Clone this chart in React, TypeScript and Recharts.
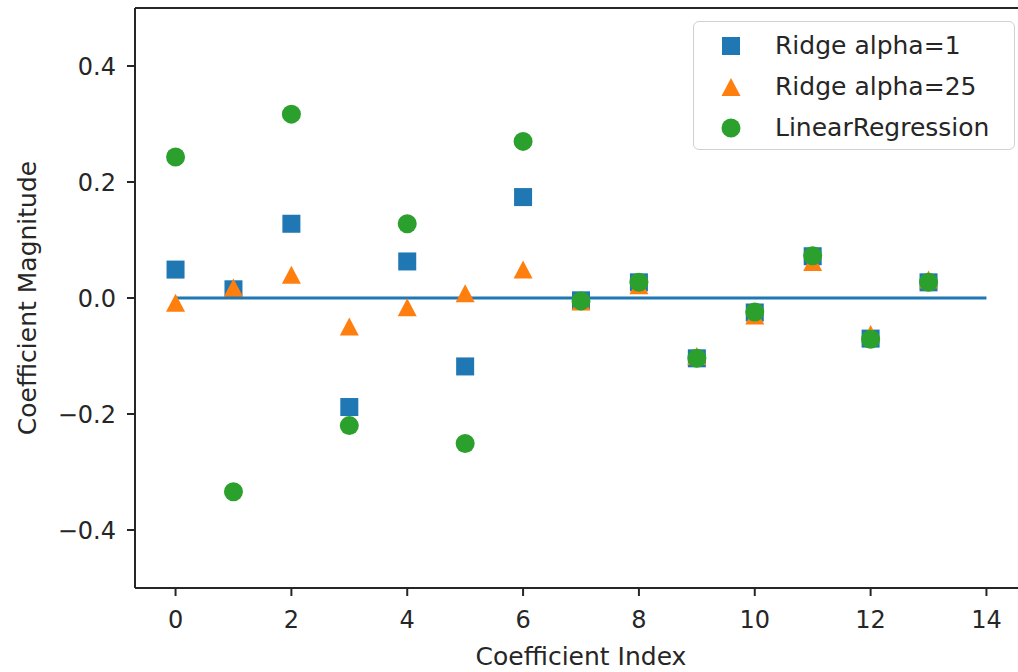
import {
  ReferenceLine,
  Scatter,
  ScatterChart,
  XAxis,
  YAxis,
} from 'recharts';

const coefIndex = [0, 1, 2, 3, 4, 5, 6, 7, 8, 9, 10, 11, 12, 13];
const ridgeAlpha1 = [0.049, 0.015, 0.128, -0.188, 0.063, -0.118, 0.174, -0.004, 0.027, -0.104, -0.025, 0.072, -0.07, 0.027];
const ridgeAlpha25 = [-0.008, 0.018, 0.04, -0.049, -0.016, 0.008, 0.049, -0.006, 0.022, -0.1, -0.03, 0.062, -0.062, 0.032];
const linearReg = [0.243, -0.334, 0.317, -0.22, 0.128, -0.251, 0.27, -0.005, 0.027, -0.104, -0.024, 0.073, -0.071, 0.027];

const xTicks = [0, 2, 4, 6, 8, 10, 12, 14];
const yTicks = [-0.4, -0.2, 0, 0.2, 0.4];

const BLUE = '#1f77b4';
const ORANGE = '#ff7f0e';
const GREEN = '#2ca02c';
const INK = '#262626';
const FONT = '"DejaVu Sans", sans-serif';

const toPoints = (vals: number[]) => vals.map((v, i) => ({ x: coefIndex[i], y: v }));

const square = (p: any) => (
  <rect x={p.cx - 9} y={p.cy - 9} width={18} height={18} fill={BLUE} />
);
const triangle = (p: any) => (
  <polygon
    points={`${p.cx},${p.cy - 9} ${p.cx - 9.5},${p.cy + 9} ${p.cx + 9.5},${p.cy + 9}`}
    fill={ORANGE}
  />
);
const dot = (p: any) => <circle cx={p.cx} cy={p.cy} r={9.5} fill={GREEN} />;

const legendItems = [
  { label: 'Ridge alpha=1', marker: 'square', color: BLUE },
  { label: 'Ridge alpha=25', marker: 'triangle', color: ORANGE },
  { label: 'LinearRegression', marker: 'circle', color: GREEN },
];

function LegendMarker({ kind, color }: { kind: string; color: string }) {
  return (
    <svg width={22} height={22} style={{ display: 'block' }}>
      {kind === 'square' && <rect x={2} y={2} width={18} height={18} fill={color} />}
      {kind === 'triangle' && <polygon points="11,2 1.5,20 20.5,20" fill={color} />}
      {kind === 'circle' && <circle cx={11} cy={11} r={9.5} fill={color} />}
    </svg>
  );
}

function LegendBox() {
  return (
    <div
      style={{
        position: 'absolute',
        left: 693,
        top: 21,
        boxSizing: 'border-box',
        width: 322,
        height: 129,
        border: '1.5px solid #d0d0d0',
        borderRadius: 6,
        background: '#fff',
        padding: '3px 0 0 26px',
        fontFamily: FONT,
        fontSize: 25,
        color: INK,
      }}
    >
      {legendItems.map((it) => (
        <div key={it.label} style={{ display: 'flex', alignItems: 'center', height: 41 }}>
          <LegendMarker kind={it.marker} color={it.color} />
          <span style={{ marginLeft: 33 }}>{it.label}</span>
        </div>
      ))}
    </div>
  );
}

const fmt = (v: number) => (v < 0 ? `\u2212${Math.abs(v).toFixed(1)}` : v.toFixed(1));

export default function App() {
  const tickStyle = { fontSize: 24, fill: INK, fontFamily: FONT };
  return (
    <div style={{ position: 'relative', width: 1018, height: 672, overflow: 'hidden', background: '#fff' }}>
      <style>{'body{margin:0}'}</style>
      <ScatterChart width={1030} height={672} margin={{ top: 8, right: 3, bottom: 0, left: 0 }}>
        <XAxis
          type="number"
          dataKey="x"
          domain={[-0.7, 14.7]}
          ticks={xTicks}
          allowDataOverflow
          height={84}
          tickSize={8}
          tickMargin={15}
          tick={tickStyle}
          stroke={INK}
          strokeWidth={2}
          label={{ value: 'Coefficient Index', position: 'insideBottom', offset: 7, style: { ...tickStyle, fontSize: 25 } }}
        />
        <YAxis
          type="number"
          dataKey="y"
          domain={[-0.5, 0.5]}
          ticks={yTicks}
          allowDataOverflow
          width={135}
          tickSize={8}
          tickMargin={11}
          tickFormatter={fmt}
          tick={tickStyle}
          stroke={INK}
          strokeWidth={2}
          label={{ value: 'Coefficient Magnitude', angle: -90, position: 'insideLeft', offset: 27, style: { ...tickStyle, fontSize: 25, textAnchor: 'middle' } }}
        />
        <ReferenceLine y={0.5} stroke={INK} strokeWidth={2} />
        <ReferenceLine x={14.7} stroke={INK} strokeWidth={2} />
        <Scatter name="Ridge alpha=1" data={toPoints(ridgeAlpha1)} shape={square} isAnimationActive={false} />
        <Scatter name="Ridge alpha=25" data={toPoints(ridgeAlpha25)} shape={triangle} isAnimationActive={false} />
        <Scatter name="LinearRegression" data={toPoints(linearReg)} shape={dot} isAnimationActive={false} />
        <ReferenceLine
          segment={[{ x: 0, y: 0 }, { x: 14, y: 0 }]}
          stroke={BLUE}
          strokeWidth={3}
        />
      </ScatterChart>
      <LegendBox />
    </div>
  );
}
